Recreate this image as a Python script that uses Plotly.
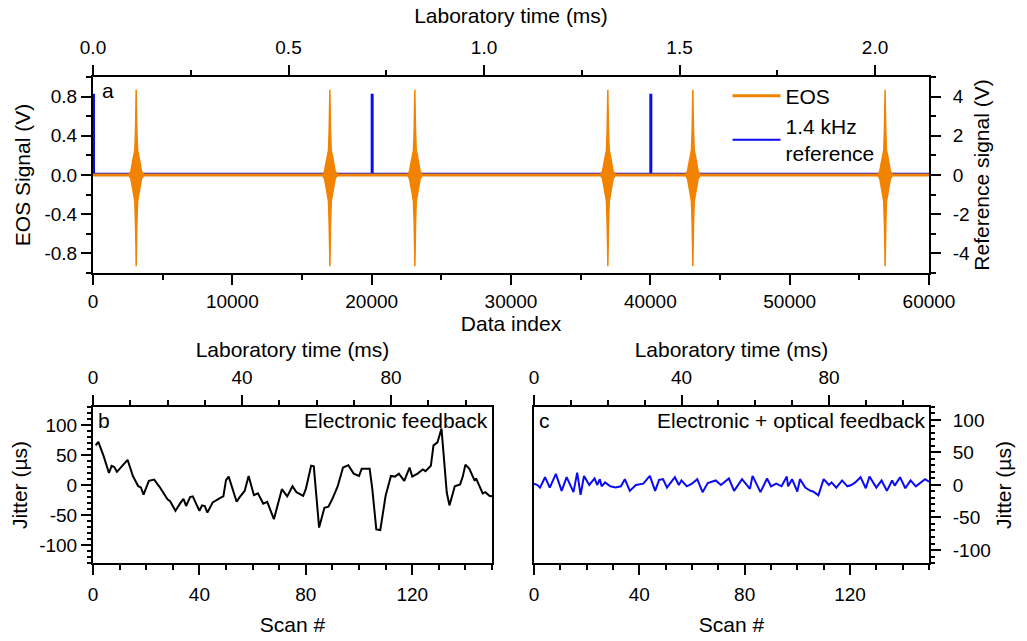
import plotly.graph_objects as go

# ---- panel a: EOS bursts and 1.4 kHz reference ----
data_index_max = 60000
lab_time_max_ms = 2.138
burst_centers = [3100, 17000, 23100, 36950, 43050, 56850]
burst_offsets = [-500, -380, -280, -180, -100, -50, -15, 0, 15, 50, 100, 180, 280, 380, 500]
burst_upper = [0.01, 0.04, 0.12, 0.2, 0.25, 0.45, 0.7, 0.87, 0.7, 0.45, 0.25, 0.2, 0.12, 0.04, 0.01]
burst_lower = [-0.01, -0.04, -0.12, -0.2, -0.27, -0.5, -0.75, -0.93, -0.75, -0.5, -0.27, -0.2,
               -0.12, -0.04, -0.01]
eos_baseline = 0.0
ref_pulse_index = [0, 20000, 40000]
ref_pulse_width = 70
ref_pulse_height = 4.1
ref_baseline = 0.06

# ---- panel b: electronic feedback jitter ----
scan_b = [1, 2, 4, 6, 7, 8, 9, 10.5, 13, 15, 17, 18, 19, 21, 23, 25, 26.5, 28, 29, 31, 33, 34,
          35, 36.5, 37.5, 40, 41, 42, 43, 45, 48, 49, 50, 51, 54, 55, 57, 58.5, 60.5, 62, 64,
          65.5, 68, 70, 71, 73, 75, 76.5, 79, 80, 82, 83, 85, 87, 88.5, 90, 92, 94, 96, 98, 100,
          101, 104, 105, 106.5, 108, 110, 112, 113.5, 115, 117, 119, 120, 122, 124, 125, 127,
          128, 129.5, 131, 133, 134, 136, 138, 139, 140, 141.5, 143.5, 144, 146.5, 147.5, 149, 150]
jitter_b = [66, 72, 48, 20, 32, 30, 22, 29, 42, 15, -2, -4, -16, 7, 9, -3, -13, -24, -27, -43,
            -29, -23, -35, -20, -19, -43, -34, -35, -46, -29, -21, -19, 8, 14, -28, -21, -10,
            15, -17, -14, -31, -28, -57, -24, -7, -19, -2, -12, -18, -7, 32, 31, -71, -38, -36,
            -23, -2, 29, 33, 19, 15, 27, 27, -7, -74, -75, -18, 15, 14, 19, 7, 29, 14, 19, 26,
            23, 32, 66, 71, 94, -13, -34, -2, 1, 14, 34, 27, 7, 11, -14, -12, -18, -19]

# ---- panel c: electronic + optical feedback jitter ----
scan_c = [0, 1.3, 2.3, 4.2, 6, 8.3, 10.5, 12.4, 15, 16.4, 17.7, 19, 21, 23, 24, 25, 25.7, 27,
          29, 31, 33, 34.5, 36.4, 38.7, 41.5, 44, 46, 47.5, 49, 50.5, 53.5, 55, 56, 58, 60, 62,
          64, 66, 69, 71, 74, 76, 79, 82, 83, 86, 88.5, 90, 92, 94, 96, 96.5, 98, 100, 101,
          103, 105, 106, 108, 110, 112, 113, 114.8, 117, 119, 120.5, 122, 124, 126, 127.4,
          130, 132, 134, 136, 137, 139, 141, 143, 145, 147, 148.5, 150]
jitter_c = [2, 0, -4, 12, -4, 17, -9, 12, -11, 19, -15, 14, 0, 10, 0, 9, -2, 4, -2, -4, -2, 9,
            -9, 0, 2, 14, -9, 8, 9, -4, 12, 0, 7, -2, 2, 9, -11, 3, 7, 0, 10, -9, 9, -6, 14,
            -11, 10, -2, 2, -2, 13, -2, 9, -10, 9, -4, -9, -10, -16, 9, 0, 4, -4, 7, -2, 0, 4,
            12, -5, 13, -4, 7, -9, 7, -1, 12, -5, 7, -2, 4, 9, 5]
scan_max = 150
lab_time_bc_ms = 107.1

# tick labels (hyphen minus as in the original)
eos_ticks = [-0.8, -0.4, 0.0, 0.4, 0.8]
eos_ticktext = ["-0.8", "-0.4", "0.0", "0.4", "0.8"]
ref_ticks = [-4, -2, 0, 2, 4]
ref_ticktext = ["-4", "-2", "0", "2", "4"]
jit_ticks = [-100, -50, 0, 50, 100]
jit_ticktext = ["-100", "-50", "0", "50", "100"]

ORANGE = "#F28300"
BLUE = "#0A0AF5"
FONT = "Liberation Sans, Arial, sans-serif"
TICK_SIZE = 19
TEXT_SIZE = 21

fig = go.Figure()

# reference signal (base y axis, right side) -> drawn under the EOS trace
rx, ry = [0], [ref_baseline]
for p in ref_pulse_index:
    rx += [p, p, p + ref_pulse_width, p + ref_pulse_width]
    ry += [ref_baseline, ref_pulse_height, ref_pulse_height, ref_baseline]
rx.append(data_index_max)
ry.append(ref_baseline)
fig.add_trace(go.Scatter(x=rx, y=ry, mode="lines", line=dict(color=BLUE, width=2),
                         name="1.4 kHz<br>reference", legendrank=2, xaxis="x", yaxis="y"))

# EOS signal: baseline plus bursts (envelope of the fast oscillation)
fig.add_trace(go.Scatter(x=[0, data_index_max], y=[eos_baseline, eos_baseline], mode="lines",
                         line=dict(color=ORANGE, width=3), name="EOS", legendrank=1,
                         xaxis="x", yaxis="y2"))
for c in burst_centers:
    bx = [c + o for o in burst_offsets] + [c + o for o in reversed(burst_offsets)]
    by = burst_upper + list(reversed(burst_lower))
    fig.add_trace(go.Scatter(x=bx, y=by, mode="lines", fill="toself", fillcolor=ORANGE,
                             line=dict(color=ORANGE, width=1.5), showlegend=False,
                             hoverinfo="skip", xaxis="x", yaxis="y2"))

fig.add_trace(go.Scatter(x=scan_b, y=jitter_b, mode="lines", line=dict(color="black", width=2),
                         showlegend=False, xaxis="x3", yaxis="y3"))
fig.add_trace(go.Scatter(x=scan_c, y=jitter_c, mode="lines", line=dict(color=BLUE, width=2),
                         showlegend=False, xaxis="x5", yaxis="y5"))

# empty carriers so the laboratory-time axes get drawn
for xa, ya, tmax in [("x2", "y", lab_time_max_ms), ("x4", "y3", lab_time_bc_ms),
                     ("x6", "y5", lab_time_bc_ms)]:
    fig.add_trace(go.Scatter(x=[0, tmax], y=[0, 0], mode="lines", opacity=0,
                             line=dict(width=0), showlegend=False, hoverinfo="skip",
                             xaxis=xa, yaxis=ya))

ax = dict(showline=True, linecolor="black", linewidth=2, ticks="outside", ticklen=10,
          tickwidth=2, tickcolor="black", showgrid=False, zeroline=False, automargin=False,
          tickfont=dict(size=TICK_SIZE, color="black"),
          title_font=dict(size=TEXT_SIZE, color="black"))
mn = dict(ticks="outside", ticklen=5, tickwidth=2, tickcolor="black", showgrid=False)

top_dom = [0.5967, 1.0]
bot_dom = [0.0, 0.321]
b_dom = [0.0, 0.4773]
c_dom = [0.5275, 1.0]

fig.update_layout(
    width=1027, height=641,
    margin=dict(l=93, r=98, t=77, b=78),
    template="none",
    paper_bgcolor="white", plot_bgcolor="white",
    font=dict(family=FONT, size=TICK_SIZE, color="black"),
    # panel a
    xaxis=dict(ax, domain=[0, 1], anchor="y", range=[0, data_index_max], dtick=10000,
               tickformat="d", minor=dict(mn, dtick=5000),
               title=dict(text="Data index", standoff=5)),
    xaxis2=dict(ax, overlaying="x", side="top", anchor="y", range=[0, lab_time_max_ms],
                dtick=0.5, tickformat=".1f", minor=dict(mn, dtick=0.25), ticklabelstandoff=3,
                title=dict(text="Laboratory time (ms)", standoff=8)),
    yaxis=dict(ax, domain=top_dom, anchor="x", side="right", range=[-5, 5],
               tickvals=ref_ticks, ticktext=ref_ticktext, minor=dict(mn, dtick=1),
               ticklabelstandoff=8, title=dict(text="Reference signal (V)", standoff=5)),
    yaxis2=dict(ax, overlaying="y", side="left", anchor="x", range=[-1, 1],
                tickvals=eos_ticks, ticktext=eos_ticktext, minor=dict(mn, dtick=0.2),
                title=dict(text="EOS Signal (V)", standoff=8)),
    # panel b
    xaxis3=dict(ax, domain=b_dom, anchor="y3", range=[0, scan_max], dtick=40,
                minor=dict(mn, dtick=10), ticklabelstandoff=3,
                title=dict(text="Scan #", standoff=14)),
    xaxis4=dict(ax, overlaying="x3", side="top", anchor="y3", range=[0, lab_time_bc_ms],
                dtick=40, minor=dict(mn, dtick=10), ticklabelstandoff=3,
                title=dict(text="Laboratory time (ms)", standoff=4)),
    yaxis3=dict(ax, domain=bot_dom, anchor="x3", range=[-130, 130], mirror=True,
                tickvals=jit_ticks, ticktext=jit_ticktext, minor=dict(mn, dtick=10, ticklen=4),
                title=dict(text="Jitter (µs)", standoff=6)),
    # panel c
    xaxis5=dict(ax, domain=c_dom, anchor="y5", range=[0, scan_max], dtick=40,
                minor=dict(mn, dtick=10), ticklabelstandoff=3,
                title=dict(text="Scan #", standoff=14)),
    xaxis6=dict(ax, overlaying="x5", side="top", anchor="y5", range=[0, lab_time_bc_ms],
                dtick=40, minor=dict(mn, dtick=10), ticklabelstandoff=3,
                title=dict(text="Laboratory time (ms)", standoff=4)),
    yaxis5=dict(ax, domain=bot_dom, anchor="x5", side="right", range=[-120, 120], mirror=True,
                tickvals=jit_ticks, ticktext=jit_ticktext, minor=dict(mn, dtick=10, ticklen=4),
                ticklabelstandoff=8, title=dict(text="Jitter (µs)", standoff=6)),
    legend=dict(x=0.759, y=1.003, xanchor="left", yanchor="top", bgcolor="rgba(0,0,0,0)",
                font=dict(size=TEXT_SIZE), itemwidth=48, tracegroupgap=0),
    showlegend=True,
)

ann = dict(showarrow=False, font=dict(size=TEXT_SIZE, color="black"))
fig.add_annotation(ann, text="a", xref="x domain", yref="y domain", x=0.008, y=1.0,
                   xanchor="left", yanchor="top")
fig.add_annotation(ann, text="b", xref="x3 domain", yref="y3 domain", x=0.008, y=1.0,
                   xanchor="left", yanchor="top")
fig.add_annotation(ann, text="c", xref="x5 domain", yref="y5 domain", x=0.008, y=1.0,
                   xanchor="left", yanchor="top")
fig.add_annotation(ann, text="Electronic feedback", xref="x3 domain", yref="y3 domain",
                   x=0.995, y=1.0, xanchor="right", yanchor="top")
fig.add_annotation(ann, text="Electronic + optical feedback", xref="x5 domain",
                   yref="y5 domain", x=0.995, y=1.0, xanchor="right", yanchor="top")

# the page body has a default 8px margin; remove it so the figure fills the window
fig.write_html("out.html", config={"displayModeBar": False},
               post_script="document.body.style.margin='0';")
